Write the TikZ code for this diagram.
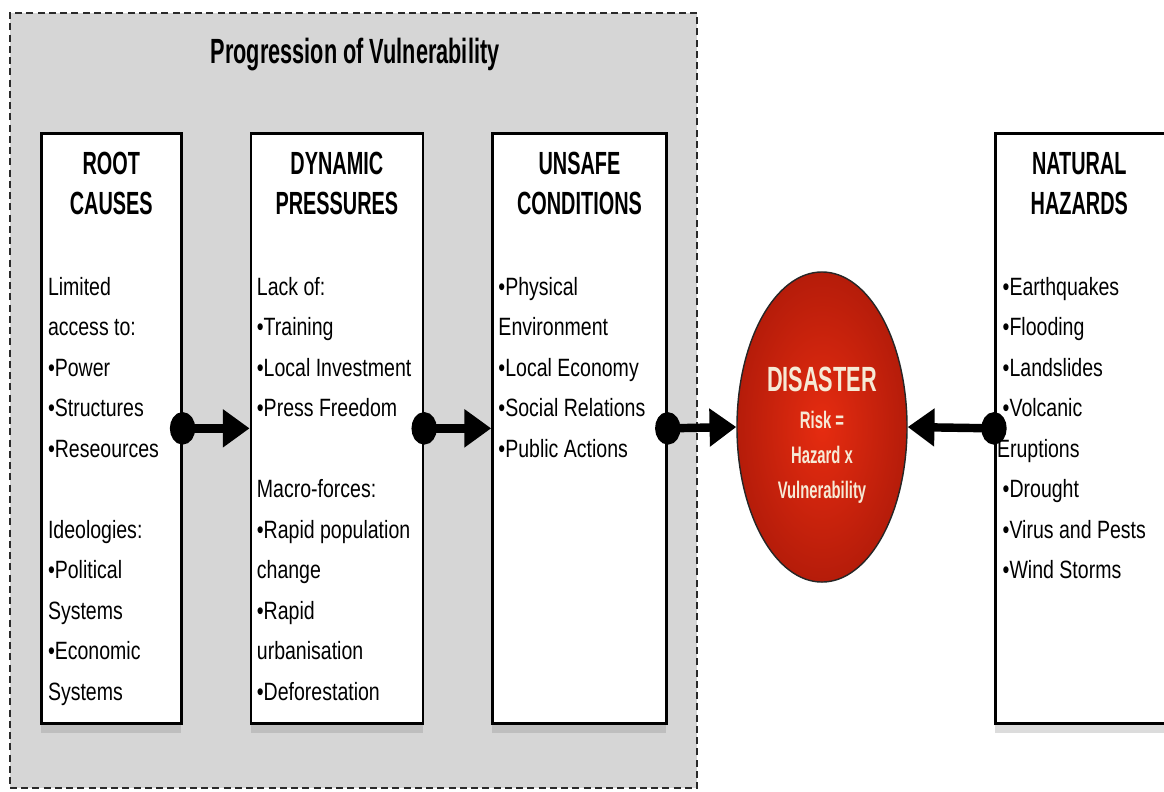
\documentclass[tikz,border=0pt]{standalone}
\usepackage{fontspec}
\setmainfont{Liberation Sans}[FakeStretch=0.78]
\newfontfamily\condfont{Liberation Sans}[FakeStretch=0.62]
\usetikzlibrary{arrows.meta,positioning,shapes.geometric,shadows}
\definecolor{panelgray}{HTML}{D6D6D6}
\definecolor{framegray}{HTML}{2A2A2A}
\definecolor{disred}{HTML}{E62C10}
\definecolor{disdark}{HTML}{B51C0A}
\definecolor{cream}{HTML}{F6EAD6}
\tikzset{
    %Define style for the dashed panel
    panel/.style={
      rectangle,
      draw=framegray, line width=1.4pt,
      dash pattern=on 5pt off 3pt,
      fill=panelgray},
    %Define style for the stage boxes
    stage/.style={
      rectangle,
      draw=black, line width=1.8pt,
      fill=white,
      minimum height=14.75cm,
      drop shadow={shadow xshift=0pt, shadow yshift=-7pt, opacity=0.28}},
    % box headings
    heading/.style={
      font=\condfont\fontsize{22.8}{28.8}\selectfont\bfseries,
      align=center, inner sep=0pt},
    % box contents
    entries/.style={
      font=\fontsize{17.8}{28.8}\selectfont,
      align=left, inner sep=0pt},
    % the red disaster circle
    disaster/.style={
      ellipse,
      draw=black!85, line width=1pt,
      shade, inner color=disred, outer color=disdark,
      minimum width=4.25cm, minimum height=7.75cm},
    distext/.style={
      text=cream, align=center, inner sep=0pt, anchor=north},
    % Define arrow style
    link/.style={
      {Circle[length=18pt, width=23pt]}-{Triangle[length=19pt, width=26pt]},
      line width=6pt,
      shorten <=-9pt}
}
\begin{document}
\begin{tikzpicture}[x=0.025cm, y=-0.025cm]
    \useasboundingbox (0,0) rectangle (1164,791);
    \clip (0,0) rectangle (1164,791);

    \node[panel, minimum width=17.175cm, minimum height=19.375cm] (vuln) at (353.5,400.5) {};
    \node[anchor=north, inner sep=0pt, font=\condfont\fontsize{24.9}{30}\selectfont\bfseries] (title) at (355,38) {Progression of Vulnerability};

    \node[stage, minimum width=3.5cm, anchor=north west] (root) at (40,132) {};
    \node[stage, minimum width=4.3cm, right=1.675cm of root] (dyn) {};
    \node[stage, minimum width=4.35cm, right=1.675cm of dyn] (unsafe) {};
    \node[stage, minimum width=4.4cm, anchor=north west] (natural) at (994,132) {};

    \node[heading, below=14pt of root.north] (roothead) {ROOT\\CAUSES};
    \node[heading, below=14pt of dyn.north] (dynhead) {DYNAMIC\\PRESSURES};
    \node[heading, below=14pt of unsafe.north] (unsafehead) {UNSAFE\\CONDITIONS};
    \node[heading, below=14pt of natural.north, xshift=-0.1cm] (naturalhead) {NATURAL\\HAZARDS};

    \node[entries, below right=103pt and 5.5pt of root.north west] (rootlist)
      {Limited\\access to:\\•Power\\•Structures\\•Reseources\\[28.8pt]Ideologies:\\•Political\\Systems\\•Economic\\Systems};
    \node[entries, below right=103pt and 5pt of dyn.north west] (dynlist)
      {Lack of:\\•Training\\•Local Investment\\•Press Freedom\\[28.8pt]Macro-forces:\\•Rapid population\\change\\•Rapid\\urbanisation\\•Deforestation};
    \node[entries, below right=103pt and 5pt of unsafe.north west] (unsafelist)
      {•Physical\\Environment\\•Local Economy\\•Social Relations\\•Public Actions};
    \node[entries, below right=103pt and 6pt of natural.north west] (naturallist)
      {•Earthquakes\\•Flooding\\•Landslides\\•Volcanic\\\hspace*{-4pt}Eruptions\\•Drought\\•Virus and Pests\\•Wind Storms};

    \node[disaster] (dis) at (822,427) {};
    \node[distext, font=\condfont\fontsize{24.9}{30}\selectfont\bfseries] (distitle) at (822,367) {DISASTER};
    \node[distext, font=\condfont\fontsize{17}{25}\selectfont\bfseries] (risk) at (822,411) {Risk =\\Hazard x\\Vulnerability};

    \draw[link] (root.east) -- (dyn.west);
    \draw[link] (dyn.east) -- (unsafe.west);
    \draw[link] (unsafe.east) -- (dis.west);
    \draw[link] (natural.west) -- (dis.east);
\end{tikzpicture}
\end{document}
